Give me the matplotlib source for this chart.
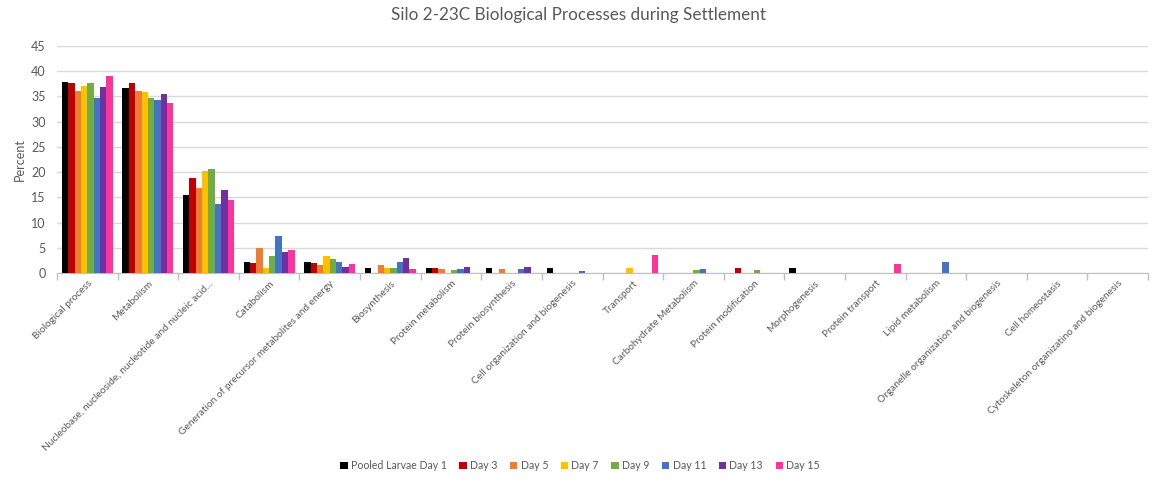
import numpy as np
import matplotlib
matplotlib.use("Agg")
import matplotlib.pyplot as plt

plt.rcParams["font.family"] = ["Lato", "DejaVu Sans"]

categories = [
    "Biological process", "Metabolism",
    "Nucleobase, nucleoside, nucleotide and nucleic acid...",
    "Catabolism", "Generation of precursor metabolites and energy",
    "Biosynthesis", "Protein metabolism", "Protein biosynthesis",
    "Cell organization and biogenesis", "Transport",
    "Carbohydrate Metabolism", "Protein modification", "Morphogenesis",
    "Protein transport", "Lipid metabolism",
    "Organelle organization and biogenesis", "Cell homeostasis",
    "Cytoskeleton organizatino and biogenesis",
]

series_names = ["Pooled Larvae Day 1", "Day 3", "Day 5", "Day 7",
                "Day 9", "Day 11", "Day 13", "Day 15"]
series_colors = ["#000000", "#C00000", "#ED7D31", "#FFC000",
                 "#70AD47", "#4472C4", "#7030A0", "#FF3399"]

day1  = [37.8, 36.6, 15.5, 2.2, 2.2, 1.05, 1.05, 1.05, 1.05, 0, 0, 0, 1.05, 0, 0, 0, 0, 0]
day3  = [37.6, 37.6, 18.8, 2.0, 2.0, 0, 1.05, 0, 0, 0, 0, 1.05, 0, 0, 0, 0, 0, 0]
day5  = [36.0, 36.0, 16.9, 5.0, 1.65, 1.65, 0.85, 0.85, 0, 0, 0, 0, 0, 0, 0, 0, 0, 0]
day7  = [37.0, 35.8, 20.2, 1.05, 3.4, 1.05, 0, 0, 0, 1.05, 0, 0, 0, 0, 0, 0, 0, 0]
day9  = [37.6, 34.65, 20.6, 3.4, 2.8, 1.05, 0.65, 0, 0, 0, 0.65, 0.65, 0, 0, 0, 0, 0, 0]
day11 = [34.65, 34.25, 13.7, 7.4, 2.2, 2.2, 0.85, 0.85, 0.45, 0, 0.85, 0, 0, 0, 2.2, 0, 0, 0]
day13 = [36.8, 35.4, 16.5, 4.2, 1.25, 3.0, 1.25, 1.25, 0, 0, 0, 0, 0, 0, 0, 0, 0, 0]
day15 = [39.0, 33.7, 14.5, 4.6, 1.85, 0.9, 0, 0, 0, 3.6, 0, 0, 0, 1.85, 0, 0, 0, 0]
series_values = [day1, day3, day5, day7, day9, day11, day13, day15]

TEXT = "#595959"
GRID = "#D9D9D9"

fig = plt.figure(figsize=(11.6, 4.83), dpi=100)
ax = fig.add_axes([0.0491, 0.4342, 0.9406, 0.4712])

x = np.arange(len(categories))
w = 0.105
for i, (name, vals, col) in enumerate(zip(series_names, series_values, series_colors)):
    ax.bar(x + (i - 3.5) * w, vals, width=w, color=col, label=name, zorder=3)

ax.set_xlim(-0.5, len(categories) - 0.5)
ax.set_ylim(0, 45)
ax.set_yticks(range(0, 46, 5))
ax.yaxis.grid(True, color=GRID, linewidth=1, zorder=0)
ax.tick_params(axis="y", length=0, labelsize=9, colors=TEXT, pad=8)

ax.set_xticks(x)
ax.set_xticklabels(categories, rotation=45, ha="right", rotation_mode="anchor",
                   fontsize=7.3, color=TEXT)
ax.tick_params(axis="x", length=0, pad=4)
ax.set_xticks(np.arange(-0.5, len(categories)), minor=True)
ax.tick_params(axis="x", which="minor", length=5, color="#BFBFBF", width=1)

for s in ("top", "right", "left"):
    ax.spines[s].set_visible(False)
ax.spines["bottom"].set_color("#BFBFBF")

ax.set_ylabel("Percent", fontsize=9, color=TEXT, labelpad=4)
fig.suptitle("Silo 2-23C Biological Processes during Settlement",
             x=0.499, y=0.985, fontsize=12.3, color=TEXT)

fig.legend(loc="lower center", bbox_to_anchor=(0.5, 0.005), ncol=8, frameon=False,
           fontsize=7.6, labelcolor=TEXT, handlelength=0.7, handleheight=0.7,
           handletextpad=0.3, columnspacing=1.2)

fig.savefig("out.png", dpi=100)
